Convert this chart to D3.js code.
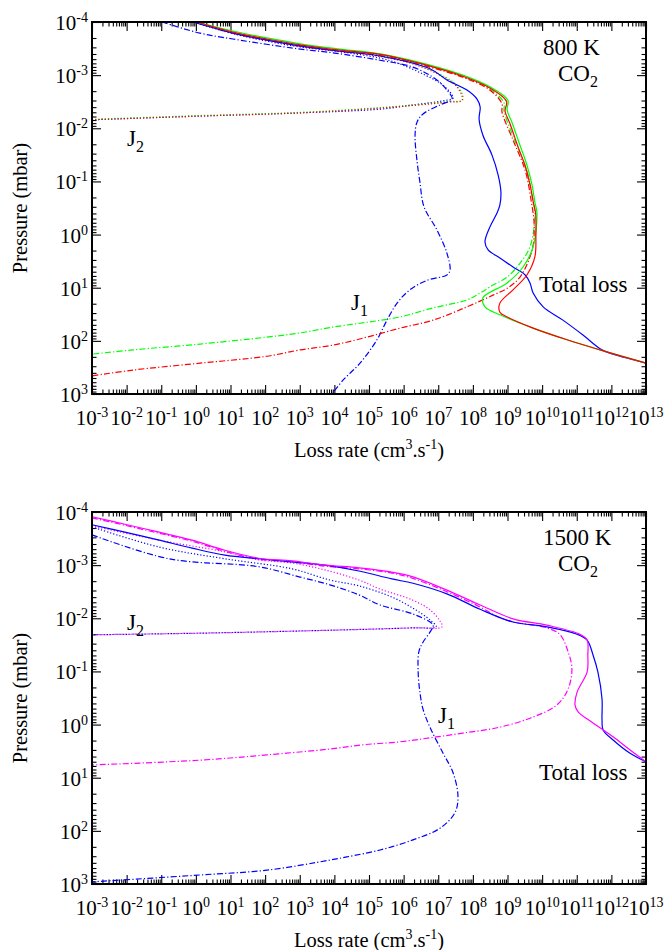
<!DOCTYPE html>
<html>
<head>
<meta charset="utf-8">
<script src="https://cdn.jsdelivr.net/npm/d3@7/dist/d3.min.js"></script>
<style>
body { margin: 0; background: #fff; }
text { font-family: "Liberation Serif", "Times New Roman", serif; fill: #000; }
</style>
</head>
<body>
<script>
// axis decades (exponents) and minor multipliers
var xExps = ["-3","-2","-1","0","1","2","3","4","5","6","7","8","9","10","11","12","13"];
var yExps = ["-4","-3","-2","-1","0","1","2","3"];
var minorMult = [2, 3, 4, 5, 6, 7, 8, 9];

// all curves: [log10 loss rate (cm3/s), log10 pressure (mbar)]
// ---- 800 K, CO2 ----
var k800GreenTotal = [[0.03,-4],[1.07,-3.83],[2.05,-3.70],[3.01,-3.59],[4.16,-3.49],[5.32,-3.40],[6.76,-3.19],[7.71,-3.00],[8.49,-2.78],[9.01,-2.53],[8.99,-2.34],[9.13,-2.11],[9.36,-1.68],[9.56,-1.31],[9.71,-0.93],[9.79,-0.61],[9.85,-0.41],[9.74,0.23],[9.45,0.61],[8.99,0.91],[8.29,1.19],[8.35,1.36],[8.78,1.51],[9.74,1.76],[10.72,1.98],[11.67,2.17],[13,2.42]];
var k800RedTotal = [[0.03,-4],[1.07,-3.81],[2.05,-3.68],[3.01,-3.57],[4.16,-3.47],[5.32,-3.39],[6.76,-3.17],[7.71,-2.98],[8.49,-2.76],[8.97,-2.51],[8.93,-2.32],[9.07,-2.09],[9.30,-1.66],[9.51,-1.29],[9.66,-0.91],[9.75,-0.59],[9.81,-0.41],[9.82,0.01],[9.79,0.42],[9.56,0.76],[9.16,1.04],[8.78,1.29],[8.78,1.46],[8.99,1.55],[9.74,1.76],[10.72,1.98],[11.67,2.17],[13,2.42]];
var k800RedJ1 = [[0.03,-4],[1.07,-3.79],[2.05,-3.66],[3.01,-3.55],[4.16,-3.45],[5.32,-3.37],[6.76,-3.15],[7.71,-2.96],[8.49,-2.72],[8.84,-2.46],[8.84,-2.31],[9.16,-1.78],[9.51,-1.21],[9.68,-0.65],[9.77,-0.18],[9.71,0.29],[9.36,0.80],[8.99,1.01],[8.58,1.14],[7.83,1.36],[6.85,1.61],[5.90,1.76],[4.94,1.93],[3.96,2.08],[3.01,2.17],[2.05,2.29],[0.12,2.42],[-1.82,2.55],[-3,2.66]];
var k800GreenJ1 = [[0.03,-4],[1.07,-3.80],[2.05,-3.67],[3.01,-3.56],[4.16,-3.46],[5.32,-3.38],[6.76,-3.16],[7.71,-2.97],[8.49,-2.74],[8.90,-2.48],[8.90,-2.32],[9.20,-1.79],[9.54,-1.24],[9.72,-0.70],[9.79,-0.35],[9.65,0.23],[9.36,0.54],[8.99,0.80],[8.58,0.95],[8.21,1.10],[7.83,1.23],[6.85,1.38],[5.90,1.55],[4.94,1.65],[3.96,1.74],[3.01,1.85],[2.05,1.93],[0.12,2.06],[-1.82,2.17],[-3,2.25]];
var k800BlueTotal = [[-0.08,-4],[1.07,-3.79],[2.05,-3.66],[3.01,-3.55],[4.16,-3.45],[5.32,-3.36],[6.76,-3.12],[7.25,-2.91],[7.83,-2.72],[8.12,-2.55],[8.21,-2.40],[8.18,-2.17],[8.29,-1.87],[8.55,-1.50],[8.73,-1.12],[8.81,-0.80],[8.78,-0.56],[8.70,-0.41],[8.49,-0.14],[8.35,0.14],[8.44,0.29],[8.78,0.44],[9.16,0.61],[9.51,0.76],[9.65,0.91],[9.74,1.10],[10.03,1.36],[10.60,1.61],[11.18,1.89],[11.73,2.17],[12.25,2.29],[13,2.42]];
var k800BlueJ2 = [[-3,-2.16],[0.12,-2.23],[3.01,-2.29],[5.32,-2.36],[6.27,-2.44],[7.25,-2.53],[7.43,-2.57],[7.14,-2.81],[6.56,-3.02],[5.90,-3.21],[5.32,-3.32],[4.16,-3.44],[3.01,-3.53],[2.05,-3.64],[1.07,-3.78],[-0.08,-4]];
var k800RedJ2 = [[-3,-2.16],[0.12,-2.23],[3.01,-2.29],[5.32,-2.38],[7.25,-2.49],[7.69,-2.53],[7.54,-2.78],[7.05,-3.00],[6.27,-3.21],[5.32,-3.35],[4.16,-3.45],[3.01,-3.54],[2.05,-3.66],[1.07,-3.79],[0.03,-4]];
var k800GreenJ2 = [[-3,-2.17],[0.12,-2.24],[3.01,-2.30],[5.32,-2.39],[7.25,-2.50],[7.71,-2.54],[7.56,-2.79],[7.07,-3.01],[6.29,-3.22],[5.34,-3.36],[4.18,-3.46],[3.03,-3.55],[2.07,-3.67],[1.09,-3.80],[0.05,-4]];
var k800BlueJ1 = [[-0.98,-4],[0.12,-3.79],[1.07,-3.68],[3.01,-3.49],[3.96,-3.42],[5.32,-3.28],[6.27,-3.15],[6.96,-2.91],[7.25,-2.72],[7.40,-2.55],[7.05,-2.44],[6.56,-2.27],[6.39,-2.12],[6.33,-1.87],[6.39,-1.37],[6.47,-0.99],[6.59,-0.52],[6.96,-0.09],[7.25,0.35],[7.34,0.67],[7.25,0.76],[6.68,0.86],[6.18,1.04],[5.81,1.29],[5.52,1.61],[5.23,1.98],[4.74,2.42],[4.25,2.74],[3.93,3]];

// ---- 1500 K, CO2 ----
var k1500MagentaTotal = [[-3,-3.91],[-2.05,-3.77],[-1.06,-3.62],[-0.11,-3.47],[0.84,-3.28],[1.82,-3.13],[2.78,-3.08],[3.73,-3.00],[4.71,-2.95],[5.66,-2.87],[6.27,-2.78],[7.25,-2.53],[8.21,-2.25],[9.16,-1.99],[10.14,-1.87],[11.09,-1.70],[11.30,-1.59],[11.32,-1.31],[11.30,-0.99],[11.01,-0.61],[10.95,-0.37],[11.04,-0.24],[11.47,-0.03],[12.05,0.23],[12.54,0.48],[13,0.70]];
var k1500BlueTotal = [[-3,-3.76],[-2.05,-3.62],[-1.06,-3.47],[-0.11,-3.32],[0.84,-3.19],[1.82,-3.12],[2.78,-3.06],[3.73,-3.00],[4.71,-2.89],[5.66,-2.74],[6.27,-2.66],[7.25,-2.46],[8.21,-2.17],[9.16,-1.93],[10.14,-1.84],[11.01,-1.70],[11.30,-1.59],[11.47,-1.31],[11.61,-0.99],[11.73,-0.48],[11.73,-0.09],[11.76,0.10],[12.05,0.29],[12.54,0.54],[13,0.70]];
var k1500MagentaJ1 = [[-3,-3.89],[-2.05,-3.75],[-1.06,-3.60],[-0.11,-3.45],[0.84,-3.26],[1.82,-3.11],[2.78,-3.06],[3.73,-2.98],[4.71,-2.93],[5.66,-2.85],[6.27,-2.75],[7.25,-2.50],[8.21,-2.21],[8.78,-2.01],[9.16,-1.93],[10.14,-1.82],[10.52,-1.69],[10.75,-1.37],[10.86,-1.05],[10.75,-0.67],[10.43,-0.37],[9.65,-0.12],[8.70,0.06],[7.71,0.16],[6.76,0.25],[5.81,0.33],[4.83,0.38],[3.87,0.46],[2.05,0.57],[0.12,0.67],[-3,0.76]];
var k1500MagentaJ2 = [[-3,-3.74],[-1.06,-3.47],[0.84,-3.25],[1.82,-3.10],[2.78,-3.04],[3.73,-2.91],[4.71,-2.72],[5.32,-2.55],[6.27,-2.34],[6.76,-2.16],[7.05,-1.95],[7.11,-1.84],[6.27,-1.82],[4.16,-1.78],[0.12,-1.72],[-3,-1.69]];
var k1500BlueJ2 = [[-3,-3.72],[-1.06,-3.34],[0.84,-3.12],[2.78,-2.93],[3.87,-2.72],[4.71,-2.61],[5.66,-2.40],[6.27,-2.19],[6.76,-1.97],[6.94,-1.84],[6.27,-1.82],[4.16,-1.78],[0.12,-1.72],[-3,-1.69]];
var k1500BlueJ1 = [[-3,-3.57],[-0.78,-3.12],[1.82,-2.97],[2.98,-2.78],[3.87,-2.63],[4.71,-2.44],[5.32,-2.25],[6.27,-2.08],[6.85,-1.87],[6.76,-1.74],[6.56,-1.55],[6.44,-1.37],[6.42,-0.99],[6.47,-0.61],[6.56,-0.29],[6.76,0.05],[7.14,0.54],[7.43,0.91],[7.57,1.36],[7.48,1.66],[7.05,1.95],[6.27,2.17],[5.32,2.36],[4.36,2.49],[3.87,2.55],[2.05,2.74],[0.12,2.83],[-3,2.96]];

var BLUE = "#0000ff", RED = "#ff0000", GREEN = "#00ff00", MAGENTA = "#ff00ff";
var DOT = "1.2,2", DASHDOT = "6,2.2,1.2,2.2";

var panels = [
  { top: 22, temp: "800 K",
    series: [
      {d: k800BlueJ2, c: BLUE, dash: DOT}, {d: k800GreenJ2, c: GREEN, dash: DOT}, {d: k800RedJ2, c: RED, dash: DOT},
      {d: k800BlueJ1, c: BLUE, dash: DASHDOT}, {d: k800GreenJ1, c: GREEN, dash: DASHDOT}, {d: k800RedJ1, c: RED, dash: DASHDOT},
      {d: k800BlueTotal, c: BLUE}, {d: k800GreenTotal, c: GREEN}, {d: k800RedTotal, c: RED}
    ],
    j2: [127, 146], j1: [351, 310], total: [539, 292] },
  { top: 512, temp: "1500 K",
    series: [
      {d: k1500BlueJ2, c: BLUE, dash: DOT}, {d: k1500MagentaJ2, c: MAGENTA, dash: DOT},
      {d: k1500BlueJ1, c: BLUE, dash: DASHDOT}, {d: k1500MagentaJ1, c: MAGENTA, dash: DASHDOT},
      {d: k1500BlueTotal, c: BLUE}, {d: k1500MagentaTotal, c: MAGENTA}
    ],
    j2: [127, 630], j1: [438, 723], total: [539, 780] }
];

var left = 92, right = 646, plotH = 372;

var svg = d3.select("body").append("svg")
    .attr("width", 667)
    .attr("height", 950)
    .style("background", "#fff");

function sciText(sel, exp) {
  sel.append("tspan").text("10");
  sel.append("tspan").attr("dy", -8).attr("font-size", 14).text(exp);
}

panels.forEach(function(p) {
  var bottom = p.top + plotH;
  var x = d3.scaleLog().domain([1e-3, 1e13]).range([left, right]);
  var y = d3.scaleLog().domain([1e-4, 1e3]).range([p.top, bottom]);
  var g = svg.append("g");

  var xMaj = xExps.map(function(e) { return Math.pow(10, +e); });
  var yMaj = yExps.map(function(e) { return Math.pow(10, +e); });
  var xMin = [], yMin = [];
  xExps.slice(0, -1).forEach(function(e) { minorMult.forEach(function(m) { xMin.push(m * Math.pow(10, +e)); }); });
  yExps.slice(0, -1).forEach(function(e) { minorMult.forEach(function(m) { yMin.push(m * Math.pow(10, +e)); }); });

  // inward ticks on all four sides
  var axes = [
    [d3.axisBottom(x), "translate(0," + bottom + ")", xMaj, xMin],
    [d3.axisTop(x), "translate(0," + p.top + ")", xMaj, xMin],
    [d3.axisLeft(y), "translate(" + left + ",0)", yMaj, yMin],
    [d3.axisRight(y), "translate(" + right + ",0)", yMaj, yMin]
  ];
  axes.forEach(function(a) {
    [[a[2], -9], [a[3], -4.5]].forEach(function(t) {
      var ax = g.append("g").attr("transform", a[1])
        .call(a[0].tickValues(t[0]).tickSize(t[1]).tickFormat(""));
      ax.select(".domain").remove();
      ax.selectAll("line").attr("stroke", "#000").attr("stroke-width", 1.1);
    });
  });

  // tick labels
  xExps.forEach(function(e) {
    var t = g.append("text").attr("x", x(Math.pow(10, +e))).attr("y", bottom + 31)
      .attr("text-anchor", "middle").attr("font-size", 21);
    sciText(t, e);
  });
  yExps.forEach(function(e) {
    var t = g.append("text").attr("x", left - 4).attr("y", y(Math.pow(10, +e)) + 8)
      .attr("text-anchor", "end").attr("font-size", 21);
    sciText(t, e);
  });

  // curves
  var line = d3.line()
    .x(function(d) { return x(Math.pow(10, d[0])); })
    .y(function(d) { return y(Math.pow(10, d[1])); })
    .curve(d3.curveCatmullRom.alpha(0.5));
  p.series.forEach(function(s) {
    g.append("path").datum(s.d)
      .attr("d", line)
      .attr("fill", "none")
      .attr("stroke", s.c)
      .attr("stroke-width", 1.2)
      .attr("stroke-dasharray", s.dash || null);
  });

  // frame
  g.append("rect").attr("x", left).attr("y", p.top)
    .attr("width", right - left).attr("height", plotH)
    .attr("fill", "none").attr("stroke", "#000").attr("stroke-width", 2);

  // axis titles
  g.append("text")
    .attr("transform", "translate(27," + (p.top + plotH / 2) + ") rotate(-90)")
    .attr("text-anchor", "middle").attr("font-size", 20.5)
    .text("Pressure (mbar)");
  var xt = g.append("text").attr("x", (left + right) / 2).attr("y", bottom + 63)
    .attr("text-anchor", "middle").attr("font-size", 20.5);
  xt.append("tspan").text("Loss rate (cm");
  xt.append("tspan").attr("dy", -8).attr("font-size", 14).text("3");
  xt.append("tspan").attr("dy", 8).text(".s");
  xt.append("tspan").attr("dy", -8).attr("font-size", 14).text("-1");
  xt.append("tspan").attr("dy", 8).text(")");

  // annotations
  g.append("text").attr("x", 543).attr("y", p.top + 33).attr("font-size", 23).text(p.temp);
  var co = g.append("text").attr("x", 558).attr("y", p.top + 59).attr("font-size", 23);
  co.append("tspan").text("CO");
  co.append("tspan").attr("dy", 6).attr("font-size", 16).text("2");

  var j2 = g.append("text").attr("x", p.j2[0]).attr("y", p.j2[1]).attr("font-size", 23);
  j2.append("tspan").text("J");
  j2.append("tspan").attr("dy", 6).attr("font-size", 16).text("2");
  var j1 = g.append("text").attr("x", p.j1[0]).attr("y", p.j1[1]).attr("font-size", 23);
  j1.append("tspan").text("J");
  j1.append("tspan").attr("dy", 6).attr("font-size", 16).text("1");

  g.append("text").attr("x", p.total[0]).attr("y", p.total[1]).attr("font-size", 23).text("Total loss");
});
</script>
</body>
</html>
